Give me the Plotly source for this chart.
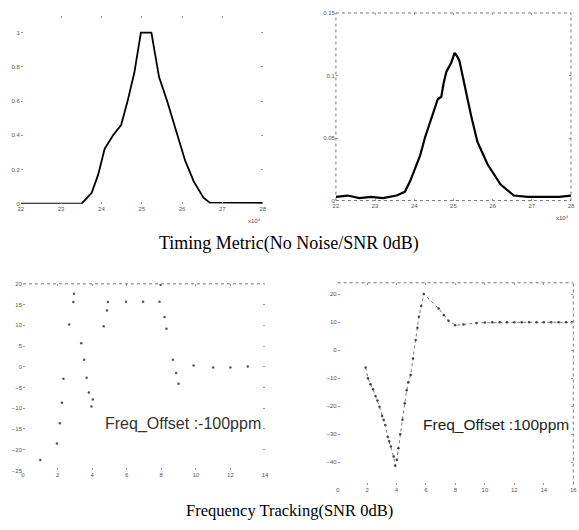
import plotly.graph_objects as go

# ---- data ----
tm_nonoise_x = [22, 23.51, 23.76, 23.92, 24.08, 24.29, 24.49, 24.65, 24.82, 24.98, 25.24, 25.43, 25.63, 25.88, 26.08, 26.29, 26.53, 26.69, 28]
tm_nonoise_y = [0, 0, 0.064, 0.17, 0.32, 0.40, 0.46, 0.60, 0.77, 1.0, 1.0, 0.74, 0.60, 0.40, 0.25, 0.13, 0.035, 0.006, 0.004]

tm_snr_x = [22, 22.3, 22.6, 22.9, 23.2, 23.55, 23.76, 23.9, 24.0, 24.15, 24.27, 24.4, 24.52, 24.6, 24.69, 24.75, 24.82, 24.94, 25.03,
            25.08, 25.15, 25.28, 25.45, 25.61, 25.87, 26.2, 26.54, 26.9, 27.3, 27.7, 28]
tm_snr_y = [0.003, 0.004, 0.002, 0.003, 0.002, 0.004, 0.007, 0.016, 0.024, 0.036, 0.05, 0.062, 0.074, 0.081, 0.083, 0.094, 0.103, 0.11, 0.118,
            0.116, 0.112, 0.092, 0.068, 0.047, 0.029, 0.013, 0.004, 0.003, 0.003, 0.003, 0.004]

ft_neg_x = [1.0, 1.96, 2.13, 2.25, 2.34, 2.67, 2.91, 2.95, 3.37, 3.54, 3.68, 3.81, 3.96, 4.04, 4.67, 4.86, 4.91, 5.96, 6.95, 7.9,
            7.96, 8.19, 8.3, 8.67, 8.86, 9.0, 9.87, 11.0, 12.0, 13.0]
ft_neg_y = [-22.5, -18.5, -13.6, -8.7, -2.9, 10.2, 15.6, 17.6, 5.7, 1.7, -2.65, -6.2, -9.6, -7.9, 9.8, 13.6, 15.6, 15.7, 15.7, 15.7,
            19.8, 12.0, 9.2, 1.7, -1.5, -4.1, 0.3, -0.2, -0.2, 0.05]

ft_pos_x = [1.9, 2.06, 2.23, 2.4, 2.57, 2.7, 2.84, 3.02, 3.13, 3.24, 3.4, 3.5, 3.62, 3.8, 3.91, 4.02, 4.13, 4.25, 4.4, 4.56, 4.69, 4.8,
            4.96, 5.12, 5.3, 5.42, 5.52, 5.68, 5.85, 6.86, 7.2, 7.53, 7.98, 8.54, 9.43, 10.0, 10.5, 11.0, 11.5, 12.0, 12.5, 13.0, 13.5,
            14.0, 14.5, 15.0, 15.5, 15.9]
ft_pos_y = [-6.2, -10.1, -12.2, -14.0, -16.4, -18.0, -20.2, -23.5, -25.0, -26.7, -30.9, -32.5, -34.4, -38.0, -41.3, -39.2, -35.0, -30.0,
            -24.9, -19.0, -14.3, -11.5, -8.9, -3.0, 3.6, 8.0, 11.9, 15.7, 20.0, 14.8, 12.5, 10.5, 8.9, 9.1, 9.7, 9.8, 9.9, 9.9, 9.9,
            9.9, 9.9, 9.9, 9.9, 9.9, 9.9, 9.9, 9.9, 9.9]

tm_xticks = [22, 23, 24, 25, 26, 27, 28]
tm1_yticks = [0, 0.2, 0.4, 0.6, 0.8, 1]
tm2_yticks = [0, 0.05, 0.1, 0.15]
ft1_xticks = [0, 2, 4, 6, 8, 10, 12, 14]
ft1_yticks = [-25, -20, -15, -10, -5, 0, 5, 10, 15, 20]
ft2_xticks = [0, 2, 4, 6, 8, 10, 12, 14, 16]
ft2_yticks = [-40, -30, -20, -10, 0, 10, 20]

caption_top = "Timing Metric(No Noise/SNR 0dB)"
caption_bottom = "Frequency Tracking(SNR 0dB)"
label_neg = "Freq_Offset :-100ppm"
label_pos = "Freq_Offset :100ppm"

fig = go.Figure()
fig.add_trace(go.Scatter(x=tm_nonoise_x, y=tm_nonoise_y, mode="lines", line=dict(color="black", width=1.8),
                         xaxis="x", yaxis="y", showlegend=False))
fig.add_trace(go.Scatter(x=tm_snr_x, y=tm_snr_y, mode="lines", line=dict(color="black", width=2.2),
                         xaxis="x2", yaxis="y2", showlegend=False))
fig.add_trace(go.Scatter(x=ft_neg_x, y=ft_neg_y, mode="markers", marker=dict(color="#555", size=2.5),
                         xaxis="x3", yaxis="y3", showlegend=False))
fig.add_trace(go.Scatter(x=ft_pos_x, y=ft_pos_y, mode="lines+markers", line=dict(color="#777", width=1, dash="dot"),
                         marker=dict(color="#444", size=2.5),
                         xaxis="x4", yaxis="y4", showlegend=False))

tickfont = dict(family="Liberation Sans", size=6, color="#555")
common = dict(showgrid=False, zeroline=False, ticks="inside", ticklen=2, tickcolor="#999",
              tickfont=tickfont, mirror="ticks", showline=False)

fig.update_layout(
    width=579, height=530, margin=dict(l=0, r=0, t=0, b=0),
    paper_bgcolor="white", plot_bgcolor="white",
    xaxis=dict(domain=[0.031, 0.454], range=[22, 28], tickvals=tm_xticks, anchor="y", **common),
    yaxis=dict(domain=[0.617, 0.976], range=[0, 1.1], tickvals=tm1_yticks, anchor="x", **common),
    xaxis2=dict(domain=[0.582, 0.993], range=[22, 28], tickvals=tm_xticks, anchor="y2", **common),
    yaxis2=dict(domain=[0.623, 0.981], range=[0, 0.15], tickvals=tm2_yticks, anchor="x2", **common),
    xaxis3=dict(domain=[0.035, 0.458], range=[0, 14], tickvals=ft1_xticks, anchor="y3", **common),
    yaxis3=dict(domain=[0.108, 0.464], range=[-25, 20], tickvals=ft1_yticks, anchor="x3", **common),
    xaxis4=dict(domain=[0.585, 0.997], range=[0, 16], tickvals=ft2_xticks, anchor="y4", **common),
    yaxis4=dict(domain=[0.081, 0.466], range=[-48, 24], tickvals=ft2_yticks, anchor="x4", **common),
    font=dict(family="Liberation Serif", color="black"),
)

# dotted frames (scanned look)
frame = dict(type="line", line=dict(color="#777", width=1, dash="dot"))
fig.add_shape(xref="x2 domain", yref="y2 domain", x0=0, x1=1, y0=1, y1=1, **frame)
fig.add_shape(xref="x2 domain", yref="y2 domain", x0=1, x1=1, y0=0, y1=1, **frame)
fig.add_shape(xref="x2 domain", yref="y2 domain", x0=0, x1=0, y0=0, y1=1, **frame)
fig.add_shape(xref="x2 domain", yref="y2 domain", x0=0, x1=1, y0=0, y1=0, **frame)
fig.add_shape(xref="x3 domain", yref="y3 domain", x0=0, x1=1, y0=1, y1=1, **frame)
fig.add_shape(xref="x4 domain", yref="y4 domain", x0=0, x1=1, y0=1, y1=1, **frame)
fig.add_shape(xref="x4 domain", yref="y4 domain", x0=1, x1=1, y0=0, y1=1, **frame)

fig.add_annotation(text=caption_top, xref="paper", yref="paper", x=0.5, y=1 - 243 / 530, yanchor="middle",
                   showarrow=False, font=dict(family="Liberation Serif", size=18, color="black"))
fig.add_annotation(text=caption_bottom, xref="paper", yref="paper", x=0.5, y=1 - 513 / 530, yanchor="middle",
                   showarrow=False, font=dict(family="Liberation Serif", size=16.5, color="black"))
fig.add_annotation(text=label_neg, xref="x3 domain", yref="y3 domain", x=0.99, y=0.25, xanchor="right",
                   yanchor="middle", showarrow=False, font=dict(family="Liberation Sans", size=16, color="#333"))
fig.add_annotation(text=label_pos, xref="x4 domain", yref="y4 domain", x=0.99, y=0.30, xanchor="right",
                   yanchor="middle", showarrow=False, font=dict(family="Liberation Sans", size=15.5, color="#222"))
fig.add_annotation(text="x10⁴", xref="x domain", yref="y domain", x=1.0, y=-0.12, xanchor="right",
                   showarrow=False, font=dict(family="Liberation Sans", size=6, color="#444"))
fig.add_annotation(text="x10⁴", xref="x2 domain", yref="y2 domain", x=1.0, y=-0.12, xanchor="right",
                   showarrow=False, font=dict(family="Liberation Sans", size=6, color="#444"))

fig.write_html("out.html")
